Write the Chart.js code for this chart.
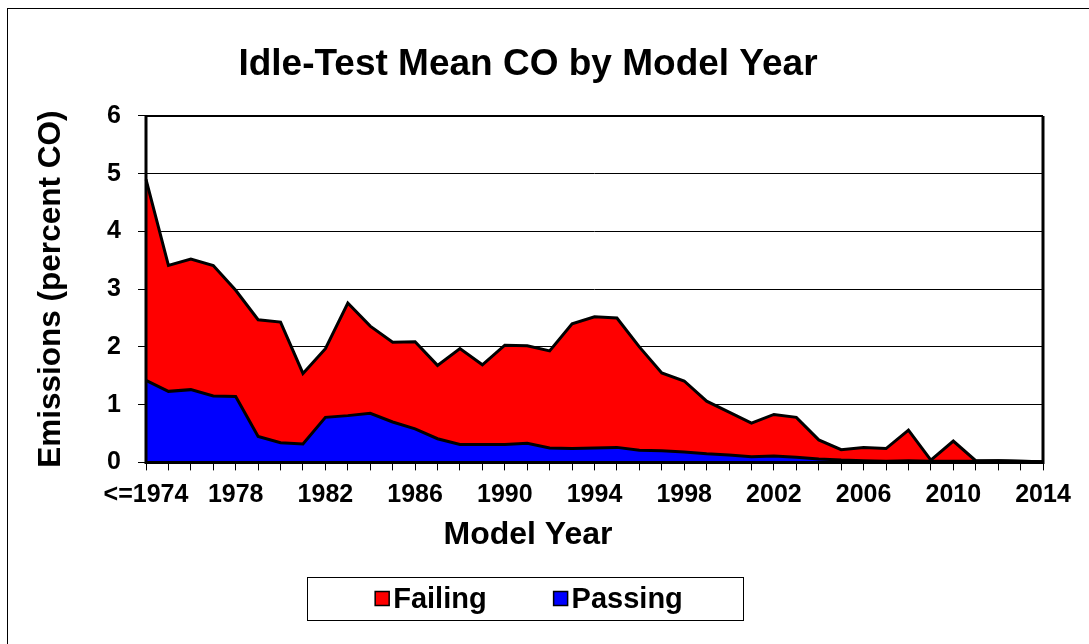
<!DOCTYPE html>
<html>
<head>
<meta charset="utf-8">
<script src="https://cdn.jsdelivr.net/npm/chart.js@4"></script>
<style>
  html, body { margin: 0; padding: 0; overflow: hidden; background: #fff; width: 1089px; height: 644px; }
  #frame { position: absolute; left: 7px; top: 8px; width: 2000px; height: 2000px; border: 1px solid #000; box-sizing: border-box; }
  #c { position: absolute; left: 0; top: 0; }
</style>
</head>
<body>
<div id="frame"></div>
<canvas id="c" width="1089" height="644"></canvas>
<script>
const modelYears = ['<=1974','1975','1976','1977','1978','1979','1980','1981','1982','1983','1984','1985','1986','1987','1988','1989','1990','1991','1992','1993','1994','1995','1996','1997','1998','1999','2000','2001','2002','2003','2004','2005','2006','2007','2008','2009','2010','2011','2012','2013','2014'];
const failingCO = [4.90,3.41,3.52,3.41,2.98,2.47,2.43,1.54,1.97,2.76,2.36,2.08,2.09,1.68,1.97,1.69,2.03,2.02,1.93,2.40,2.52,2.50,2.00,1.55,1.41,1.06,0.87,0.68,0.83,0.78,0.39,0.22,0.26,0.24,0.56,0.04,0.37,0.03,0.03,0.02,0.01];
const passingCO = [1.42,1.23,1.26,1.15,1.14,0.45,0.34,0.32,0.78,0.81,0.85,0.70,0.58,0.41,0.31,0.31,0.31,0.33,0.25,0.24,0.25,0.26,0.21,0.20,0.18,0.15,0.13,0.10,0.11,0.09,0.06,0.04,0.03,0.02,0.03,0.02,0.02,0.02,0.03,0.02,0.01];
const yTicks = [0,1,2,3,4,5,6];

const FONT = '"Liberation Sans", Arial, Helvetica, sans-serif';

const plotFrame = {
  id: 'plotFrame',
  afterDatasetsDraw(chart) {
    const {ctx, chartArea: a} = chart;
    ctx.save();
    ctx.strokeStyle = '#000';
    ctx.lineWidth = 3;
    ctx.beginPath();
    ctx.moveTo(a.right, a.top);
    ctx.lineTo(a.right, a.bottom);
    ctx.lineTo(a.left, a.bottom);
    ctx.lineTo(a.left, a.top);
    ctx.stroke();
    ctx.lineWidth = 2;
    ctx.beginPath();
    ctx.moveTo(a.left, a.top);
    ctx.lineTo(a.right, a.top);
    ctx.stroke();
    ctx.restore();
  }
};

const boxedLegend = {
  id: 'boxedLegend',
  afterDraw(chart, args, opts) {
    const ctx = chart.ctx;
    const b = opts.box;
    ctx.save();
    ctx.strokeStyle = '#000';
    ctx.lineWidth = 1;
    ctx.fillStyle = '#fff';
    ctx.fillRect(b.x, b.y, b.w, b.h);
    ctx.strokeRect(b.x + 0.5, b.y + 0.5, b.w, b.h);
    ctx.font = 'bold ' + opts.fontSize + 'px ' + FONT;
    ctx.textBaseline = 'middle';
    const items = opts.order.map(i => chart.data.datasets[i]);
    const sw = opts.swatch, gap = opts.gap, itemGap = opts.itemGap;
    let total = 0;
    items.forEach((d, i) => { total += sw + gap + ctx.measureText(d.label).width + (i < items.length - 1 ? itemGap : 0); });
    let x = opts.centerX - total / 2;
    const cy = b.y + b.h / 2;
    items.forEach((d) => {
      ctx.fillStyle = d.backgroundColor;
      ctx.fillRect(x, cy - sw / 2, sw, sw);
      ctx.lineWidth = 1.5;
      ctx.strokeStyle = '#000';
      ctx.strokeRect(x, cy - sw / 2, sw, sw);
      x += sw + gap;
      ctx.fillStyle = '#000';
      ctx.fillText(d.label, x, cy + 1);
      x += ctx.measureText(d.label).width + itemGap;
    });
    ctx.restore();
  }
};

new Chart(document.getElementById('c'), {
  type: 'line',
  data: {
    labels: modelYears,
    datasets: [
      { label: 'Failing', data: failingCO, backgroundColor: '#FF0000', borderColor: '#000', borderWidth: 3, fill: 'origin', pointRadius: 0, tension: 0, order: 1 },
      { label: 'Passing', data: passingCO, backgroundColor: '#0000FF', borderColor: '#000', borderWidth: 3, fill: 'origin', pointRadius: 0, tension: 0, order: 0 }
    ]
  },
  options: {
    responsive: false,
    animation: false,
    events: [],
    layout: { padding: { left: 13, right: 46, top: 0, bottom: 89.4 } },
    plugins: {
      legend: { display: false },
      tooltip: { enabled: false },
      title: {
        display: true,
        text: 'Idle-Test Mean CO by Model Year',
        color: '#000',
        font: { family: FONT, size: 37, weight: 'bold' },
        padding: { top: 42.5, bottom: 29 }
      },
      subtitle: {
        display: true,
        position: 'bottom',
        text: 'Model Year',
        color: '#000',
        font: { family: FONT, size: 32, weight: 'bold' },
        padding: { top: 6.8, bottom: 0 }
      },
      boxedLegend: {
        box: { x: 307, y: 577, w: 436, h: 43 },
        centerX: 529,
        order: [0, 1],
        fontSize: 29,
        swatch: 14,
        gap: 4,
        itemGap: 67
      }
    },
    scales: {
      x: {
        type: 'category',
        offset: false,
        afterFit(s) { s.height = 47; },
        grid: { drawOnChartArea: false, drawTicks: true, tickLength: 8, tickColor: '#000', lineWidth: 1 },
        border: { display: false },
        ticks: {
          autoSkip: false, maxRotation: 0, minRotation: 0, padding: 9.5, color: '#000',
          font: { family: FONT, size: 25, weight: 'bold' },
          callback(v, i) { return i % 4 === 0 ? modelYears[i] : ''; }
        }
      },
      y: {
        min: 0, max: 6,
        afterFit(s) { s.width = 133; },
        afterBuildTicks(s) { s.ticks = yTicks.map(v => ({ value: v })); },
        grid: { color: '#000', lineWidth: 1, drawTicks: true, tickLength: 8, tickColor: '#000' },
        border: { display: false },
        ticks: { padding: 17, color: '#000', font: { family: FONT, size: 25, weight: 'bold' } },
        title: {
          display: true,
          text: 'Emissions (percent CO)',
          color: '#000',
          font: { family: FONT, size: 31.5, weight: 'bold' },
          padding: { top: 19.1, bottom: 0 }
        }
      }
    }
  },
  plugins: [plotFrame, boxedLegend]
});
</script>
</body>
</html>
